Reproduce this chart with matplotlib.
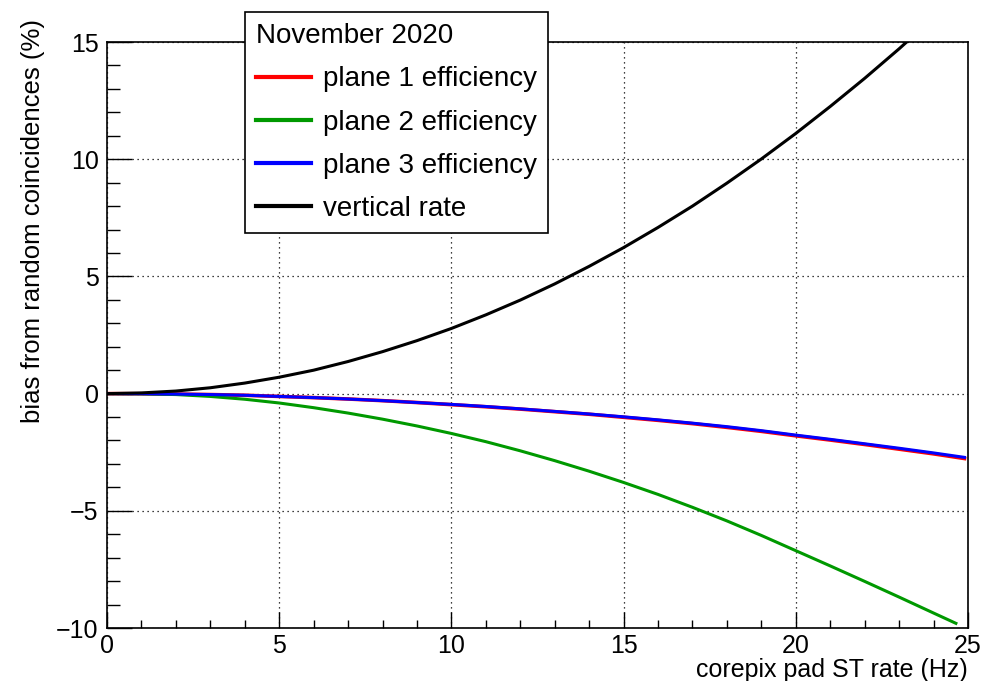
import matplotlib
matplotlib.use("Agg")
from matplotlib import pyplot as plt
from matplotlib.ticker import MultipleLocator

plt.rcParams['font.family'] = ['Liberation Sans', 'DejaVu Sans']

# values
rate = [0, 1, 2, 3, 4, 5, 6, 7, 8, 9, 10, 11, 12, 13, 14, 15, 16, 17, 18, 19,
        20, 21, 22, 23, 24, 24.9]
plane1 = [0, -0.005, -0.02, -0.04, -0.07, -0.12, -0.17, -0.23, -0.3, -0.38, -0.47,
          -0.56, -0.66, -0.77, -0.88, -1.01, -1.14, -1.28, -1.44, -1.61, -1.8,
          -1.98, -2.17, -2.37, -2.57, -2.77]
plane3 = [0, -0.005, -0.02, -0.04, -0.07, -0.12, -0.17, -0.23, -0.3, -0.38, -0.46,
          -0.55, -0.65, -0.76, -0.87, -0.99, -1.12, -1.26, -1.41, -1.58, -1.77,
          -1.95, -2.14, -2.33, -2.53, -2.72]
rate2 = [0, 1, 2, 3, 4, 5, 6, 7, 8, 9, 10, 11, 12, 13, 14, 15, 16, 17, 18, 19,
         20, 21, 22, 23, 24, 24.65]
plane2 = [0, -0.01, -0.04, -0.12, -0.24, -0.4, -0.6, -0.83, -1.09, -1.38, -1.7,
          -2.05, -2.44, -2.86, -3.31, -3.79, -4.3, -4.85, -5.43, -6.05, -6.7,
          -7.35, -8.01, -8.68, -9.36, -9.8]
vertical = [0, 0.03, 0.11, 0.25, 0.45, 0.7, 1.0, 1.37, 1.79, 2.26, 2.78, 3.36,
            3.99, 4.68, 5.43, 6.23, 7.09, 8.0, 8.98, 10.01, 11.1, 12.25, 13.45,
            14.71, 16.03, 17.25]

fig = plt.figure(figsize=(9.82, 6.81), dpi=100)
ax = fig.add_axes([0.109, 0.0778, 0.8767, 0.8605])

ax.plot(rate, plane1, color='#ff0000', lw=2.6, label='plane 1 efficiency')
ax.plot(rate2, plane2, color='#009900', lw=2.2, label='plane 2 efficiency')
ax.plot(rate, plane3, color='#0000ff', lw=2.2, label='plane 3 efficiency')
ax.plot(rate, vertical, color='black', lw=2.2, label='vertical rate')

ax.set_xlim(0, 25)
ax.set_ylim(-10, 15)
ax.xaxis.set_major_locator(MultipleLocator(5))
ax.xaxis.set_minor_locator(MultipleLocator(1))
ax.yaxis.set_major_locator(MultipleLocator(5))
ax.yaxis.set_minor_locator(MultipleLocator(1))
ax.grid(True, which='major', color='black', ls=(0, (1, 3)), lw=0.9)
ax.tick_params(axis='both', which='both', direction='in', top=False, right=False,
               labelsize=18, width=1)
ax.tick_params(axis='x', which='major', length=11.5, pad=4)
ax.tick_params(axis='x', which='minor', length=5.8)
ax.tick_params(axis='y', which='major', length=18, pad=6)
ax.tick_params(axis='y', which='minor', length=9.4)
for s in ax.spines.values():
    s.set_linewidth(1.2)

ax.set_xlabel('corepix pad ST rate (Hz)', fontsize=18, loc='right')
ax.xaxis.set_label_coords(1.0, -0.052, transform=ax.transAxes)
ax.set_ylabel('bias from random coincidences (%)', fontsize=18.5, loc='top')
ax.yaxis.set_label_coords(-0.072, 1.04, transform=ax.transAxes)

leg = ax.legend(title='November 2020', loc='upper left',
                bbox_to_anchor=(0.1606, 1.051), fontsize=20, title_fontsize=20,
                frameon=True, fancybox=False, edgecolor='black', framealpha=1,
                handlelength=1.95, handletextpad=0.43, labelspacing=0.62,
                borderpad=0.4, borderaxespad=0)
leg._legend_box.align = 'left'
leg.get_frame().set_linewidth(1.2)
for h in leg.legend_handles:
    h.set_linewidth(3)

fig.savefig('out.png', dpi=100)
